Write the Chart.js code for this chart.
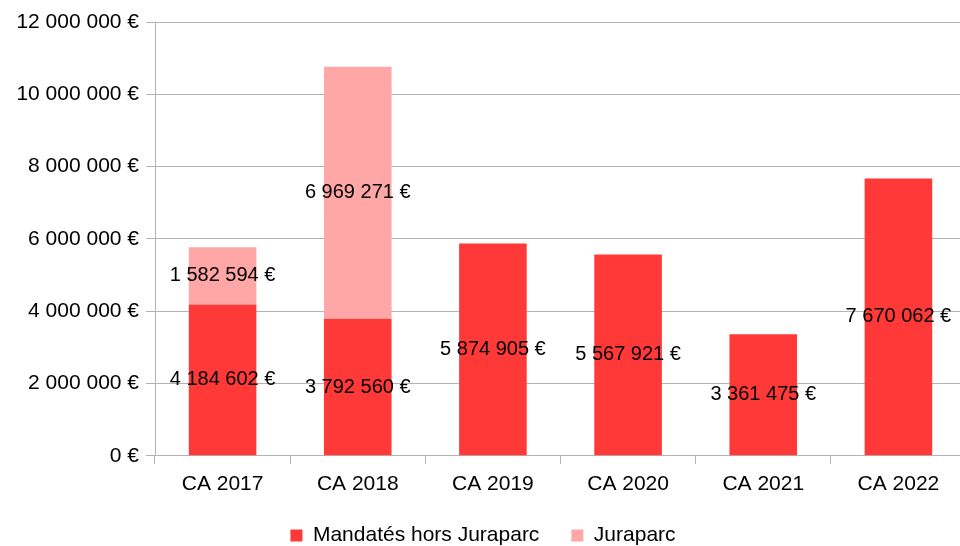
<!DOCTYPE html>
<html>
<head>
<meta charset="utf-8">
<script src="https://cdn.jsdelivr.net/npm/chart.js@4"></script>
<style>
  html, body { margin: 0; padding: 0; background: #fff; overflow: hidden; }
  #wrap { width: 966px; height: 546px; position: relative; }
</style>
</head>
<body>
<div id="wrap"><canvas id="chart"></canvas></div>
<script>
// ===== Data =====
const categories = ['CA 2017', 'CA 2018', 'CA 2019', 'CA 2020', 'CA 2021', 'CA 2022'];
const mandatesValues = [4184602, 3792560, 5874905, 5567921, 3361475, 7670062];
const juraparcValues = [1582594, 6969271, null, null, null, null];
const seriesNames = ['Mandatés hors Juraparc', 'Juraparc'];

const FONT = 'Liberation Sans, Arial, sans-serif';
const FONT_SIZE = 21;

function formatEuro(v) {
    return String(Math.round(v)).replace(/\B(?=(\d{3})+(?!\d))/g, ' ') + ' €';
}

// draws value labels in the middle of each bar segment
const valueLabels = {
    id: 'valueLabels',
    afterDatasetsDraw(chart) {
        const ctx = chart.ctx;
        ctx.save();
        ctx.font = '20px ' + FONT;
        ctx.fillStyle = '#000';
        ctx.textAlign = 'center';
        ctx.textBaseline = 'middle';
        chart.data.datasets.forEach((ds, i) => {
            const meta = chart.getDatasetMeta(i);
            meta.data.forEach((bar, j) => {
                const v = ds.data[j];
                if (!v) return;
                ctx.fillText(formatEuro(v), bar.x, (bar.y + bar.base) / 2);
            });
        });
        ctx.restore();
    }
};

new Chart(document.getElementById('chart'), {
    type: 'bar',
    data: {
        labels: categories,
        datasets: [
            {
                label: seriesNames[0],
                data: mandatesValues,
                backgroundColor: '#ff3838',
                barPercentage: 0.5,
                categoryPercentage: 1
            },
            {
                label: seriesNames[1],
                data: juraparcValues,
                backgroundColor: '#ffa6a6',
                barPercentage: 0.5,
                categoryPercentage: 1
            }
        ]
    },
    options: {
        responsive: true,
        maintainAspectRatio: false,
        animation: false,
        layout: { padding: { top: 22, right: 0, left: 0, bottom: -10 } },
        plugins: {
            legend: {
                position: 'bottom',
                labels: {
                    color: '#000',
                    font: { family: FONT, size: FONT_SIZE },
                    boxWidth: 12,
                    boxHeight: 12,
                    padding: 32
                }
            },
            tooltip: { enabled: false }
        },
        scales: {
            x: {
                stacked: true,
                grid: {
                    offset: true,
                    drawOnChartArea: false,
                    color: '#b3b3b3',
                    tickLength: 8
                },
                border: { color: '#b3b3b3' },
                afterFit: s => { s.height = s.height - 12; },
                ticks: {
                    color: '#000',
                    font: { family: FONT, size: FONT_SIZE },
                    padding: 8
                }
            },
            y: {
                stacked: true,
                min: 0,
                max: 12000000,
                grid: { color: '#b3b3b3', tickLength: 9 },
                border: { color: '#b3b3b3' },
                afterFit: s => { s.width = 155; },
                ticks: {
                    stepSize: 2000000,
                    color: '#000',
                    font: { family: FONT, size: FONT_SIZE },
                    padding: 7,
                    callback: v => formatEuro(v)
                }
            }
        }
    },
    plugins: [valueLabels]
});
</script>
</body>
</html>
